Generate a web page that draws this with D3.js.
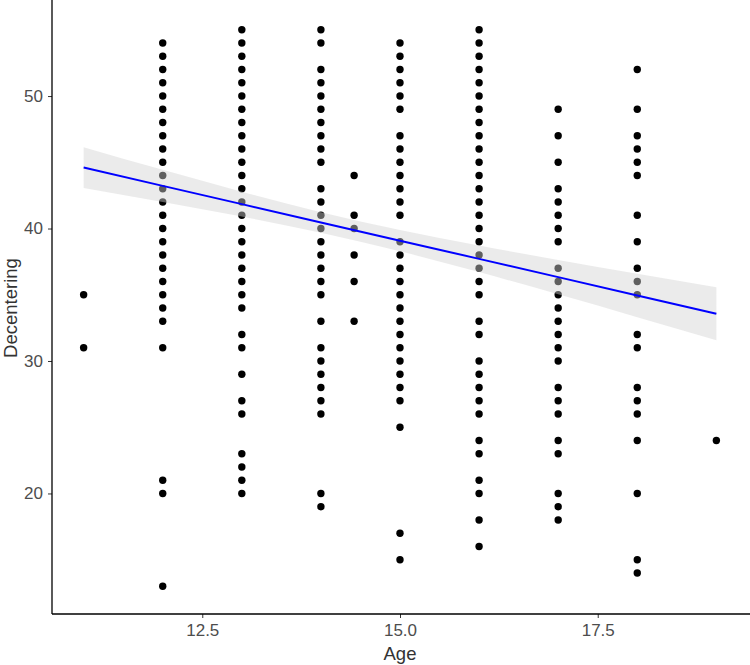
<!DOCTYPE html>
<html>
<head>
    <meta charset="utf-8">
    <title>Decentering vs Age</title>
    <script src="https://d3js.org/d3.v7.min.js"></script>
    <style>
        body { margin: 0; background: #fff; }
    </style>
</head>
<body>
<div id="chart"></div>

<script type="text/javascript">
	// decentering scores observed at each age
	let ages = [11, 12, 13, 14, 14.42, 15, 16, 17, 18, 19];
	let age11 = [35, 31];
	let age12 = [54, 53, 52, 51, 50, 49, 48, 47, 46, 45, 44, 43, 42, 41, 40, 39, 38, 37, 36, 35, 34, 33, 31, 21, 20, 13];
	let age13 = [55, 54, 53, 52, 51, 50, 49, 48, 47, 46, 45, 44, 43, 42, 41, 40, 39, 38, 37, 36, 35, 34, 32, 31, 29, 27, 26, 23, 22, 21, 20];
	let age14 = [55, 54, 52, 51, 50, 49, 48, 47, 46, 45, 43, 42, 41, 40, 39, 38, 37, 36, 35, 33, 31, 30, 29, 28, 27, 26, 20, 19];
	let age1442 = [44, 41, 40, 38, 36, 33];
	let age15 = [54, 53, 52, 51, 50, 49, 47, 46, 45, 44, 43, 42, 41, 39, 38, 37, 36, 35, 34, 33, 32, 31, 30, 29, 28, 27, 25, 17, 15];
	let age16 = [55, 54, 53, 52, 51, 50, 49, 48, 47, 46, 45, 44, 43, 42, 41, 40, 39, 38, 37, 36, 35, 33, 32, 30, 29, 28, 27, 26, 24, 23, 21, 20, 18, 16];
	let age17 = [49, 47, 45, 43, 42, 41, 40, 39, 37, 36, 35, 34, 33, 32, 31, 30, 28, 27, 26, 24, 23, 20, 19, 18];
	let age18 = [52, 49, 47, 46, 45, 44, 41, 39, 37, 36, 35, 32, 31, 28, 27, 26, 24, 20, 15, 14];
	let age19 = [24];
	let scores = [age11, age12, age13, age14, age1442, age15, age16, age17, age18, age19];

	// linear fit and 95% band
	let smoothAge   = [11, 12, 13, 14, 15, 16, 17, 18, 19];
	let smoothFit   = [44.60, 43.22, 41.84, 40.46, 39.08, 37.71, 36.33, 34.95, 33.57];
	let smoothLower = [43.06, 42.01, 40.90, 39.69, 38.28, 36.71, 35.03, 33.31, 31.57];
	let smoothUpper = [46.14, 44.43, 42.78, 41.23, 39.88, 38.71, 37.63, 36.59, 35.57];

	let xTicks = [12.5, 15.0, 17.5];
	let yTicks = [20, 30, 40, 50];

	let dataset = [];
	ages.forEach(function(a, i){
		scores[i].forEach(function(v){
			dataset.push({age: a, dec: v});
		});
	});
	let smooth = smoothAge.map(function(a, i){
		return {age: a, fit: smoothFit[i], lo: smoothLower[i], hi: smoothUpper[i]};
	});

	let W = 750, H = 665;
	let margin = {left: 52, right: 748, top: 2, bottom: 614};

	let svg = d3.select("#chart")
		.append("svg")
			.attr("width", W)
			.attr("height", H)
			.style("font-family", "'Liberation Sans', Arial, sans-serif");

	let xScale = d3.scaleLinear()
		.domain([10.6, 19.4])
		.range([margin.left, margin.right]);

	let yScale = d3.scaleLinear()
		.domain([10.9, 57.1])
		.range([margin.bottom, margin.top]);

	svg.append("g")
		.selectAll("circle")
		.data(dataset)
		.enter()
		.append("circle")
			.attr("cx", function(d){ return xScale(d.age); })
			.attr("cy", function(d){ return yScale(d.dec); })
			.attr("r", 3.7)
			.attr("fill", "#000");

	let band = d3.area()
		.x(function(d){ return xScale(d.age); })
		.y0(function(d){ return yScale(d.lo); })
		.y1(function(d){ return yScale(d.hi); })
		.curve(d3.curveMonotoneX);

	svg.append("path")
		.datum(smooth)
		.attr("d", band)
		.attr("fill", "#d3d3d3")
		.attr("fill-opacity", 0.45);

	let line = d3.line()
		.x(function(d){ return xScale(d.age); })
		.y(function(d){ return yScale(d.fit); });

	svg.append("path")
		.datum(smooth)
		.attr("d", line)
		.attr("fill", "none")
		.attr("stroke", "blue")
		.attr("stroke-width", 2);

	let xAxis = d3.axisBottom(xScale)
		.tickValues(xTicks)
		.tickFormat(d3.format(".1f"))
		.tickSize(4)
		.tickPadding(6);

	let yAxis = d3.axisLeft(yScale)
		.tickValues(yTicks)
		.tickSize(4)
		.tickPadding(5);

	let gx = svg.append("g")
		.attr("transform", "translate(0," + margin.bottom + ")")
		.call(xAxis);

	let gy = svg.append("g")
		.attr("transform", "translate(" + margin.left + ",0)")
		.call(yAxis);

	[gx, gy].forEach(function(g){
		g.select(".domain").remove();
		g.selectAll(".tick line").attr("stroke", "#333").attr("stroke-width", 1);
		g.selectAll(".tick text")
			.attr("fill", "#4d4d4d")
			.attr("font-size", "17px")
			.attr("font-family", "'Liberation Sans', Arial, sans-serif");
	});

	// axis lines
	svg.append("line")
		.attr("x1", margin.left).attr("x2", margin.left)
		.attr("y1", 0).attr("y2", margin.bottom)
		.attr("stroke", "#000").attr("stroke-width", 1.3);

	svg.append("line")
		.attr("x1", margin.left).attr("x2", W)
		.attr("y1", margin.bottom).attr("y2", margin.bottom)
		.attr("stroke", "#000").attr("stroke-width", 1.3);

	svg.append("text")
		.attr("x", (margin.left + margin.right) / 2)
		.attr("y", 660)
		.style("text-anchor", "middle")
		.attr("font-size", "18.5px")
		.attr("fill", "#333")
		.text("Age");

	svg.append("text")
		.attr("transform", "rotate(-90)")
		.attr("x", -(margin.top + margin.bottom) / 2)
		.attr("y", 17)
		.style("text-anchor", "middle")
		.attr("font-size", "18.5px")
		.attr("fill", "#333")
		.text("Decentering");
</script>
</body>
</html>
